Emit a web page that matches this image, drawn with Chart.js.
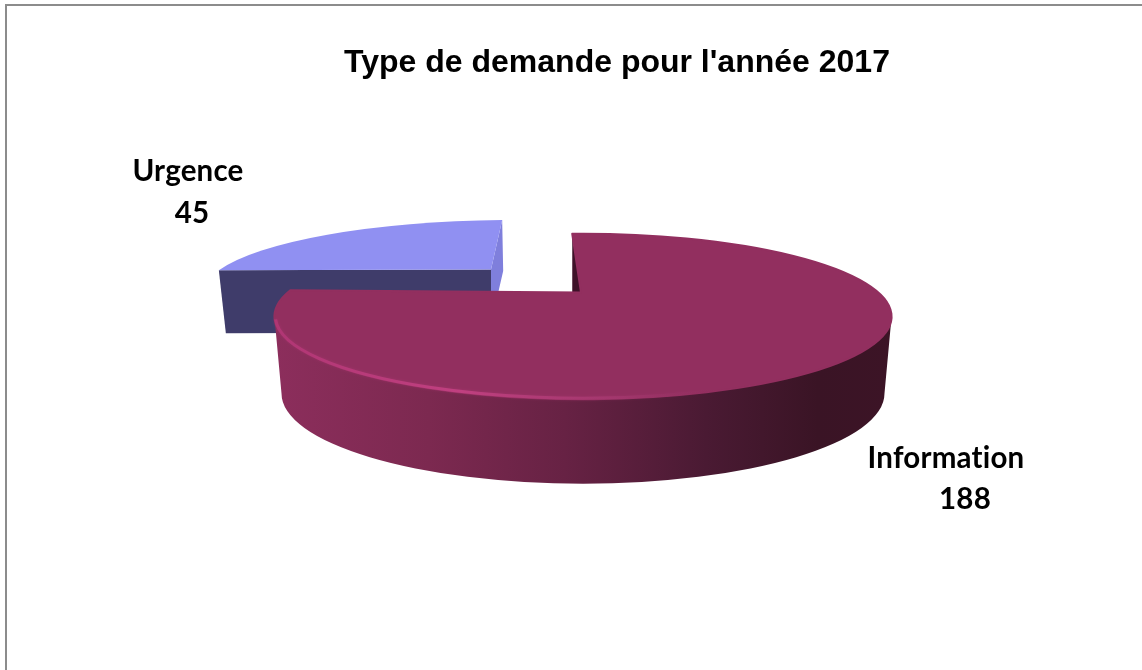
<!DOCTYPE html>
<html>
<head>
<meta charset="utf-8">
<title>Type de demande</title>
<script src="https://cdn.jsdelivr.net/npm/chart.js@4/dist/chart.umd.js"></script>
<style>
  html, body { margin: 0; padding: 0; background: #fff; }
  canvas { display: block; }
</style>
</head>
<body>
<canvas id="pie" width="1142" height="670"></canvas>
<script>
const chartTitle = "Type de demande pour l'année 2017";
const categories = ['Information', 'Urgence'];
const demandes = [188, 45];
const couleurs = ['#922f5f', '#9090f2'];

const labelFont = 'bold 29.5px Lato, Carlito, sans-serif';
const titleFont = 'bold 32px "Liberation Sans", Arial, sans-serif';

// the tilted view: squash of the disc, thickness, where the tip of a slice lands
const tilt = 0.268;
const wallDrop = 77;
const wallRx = 0.977;
const wallRy = 1.09;

const toRad = d => d * Math.PI / 180;

function sector(ctx, cx, cy, rx, ry, tipX, tipY, arc) {
  ctx.beginPath();
  ctx.ellipse(cx, cy, rx, ry, 0, arc.startAngle, arc.endAngle);
  ctx.lineTo(tipX, tipY);
  ctx.closePath();
}

function pointOn(cx, cy, rx, ry, a) {
  return [cx + rx * Math.cos(a), cy + ry * Math.sin(a)];
}

function drawUrgence(ctx, arc) {
  const rx = arc.outerRadius * 1.005;
  const ry = arc.outerRadius * tilt * 0.888;
  const cx = arc.x - 70;
  const cy = arc.y - 23;
  const tipX = cx - 22;
  const tipY = cy - 24;
  // this slice runs from its left end up to the top
  const left = pointOn(cx, cy, rx, ry, arc.startAngle);
  const top = pointOn(cx, cy, rx, ry, arc.endAngle);
  const depth = 63;

  // cut face on the right
  ctx.fillStyle = '#7f7fdc';
  ctx.beginPath();
  ctx.moveTo(tipX, tipY);
  ctx.lineTo(top[0], top[1]);
  ctx.lineTo(top[0] + 1, top[1] + 51);
  ctx.lineTo(tipX + 7, tipY + 24);
  ctx.lineTo(tipX, tipY + depth);
  ctx.closePath();
  ctx.fill();

  // cut face in front
  ctx.fillStyle = '#3f3c6a';
  ctx.beginPath();
  ctx.moveTo(left[0], left[1]);
  ctx.lineTo(tipX, tipY);
  ctx.lineTo(tipX, tipY + depth);
  ctx.lineTo(left[0] + 7, left[1] + depth);
  ctx.closePath();
  ctx.fill();

  sector(ctx, cx, cy, rx, ry, tipX, tipY, arc);
  ctx.fillStyle = arc.options.backgroundColor;
  ctx.fill();
}

function drawInformation(ctx, arc) {
  const rx = arc.outerRadius;
  const ry = arc.outerRadius * tilt;
  const cx = arc.x;
  const cy = arc.y;
  const tipX = cx - 2;
  const tipY = cy - 24;
  const s = pointOn(cx, cy, rx, ry, arc.startAngle);

  // dark sliver at the start of the slice
  ctx.fillStyle = '#3f1229';
  ctx.beginPath();
  ctx.moveTo(s[0], s[1]);
  ctx.lineTo(s[0], tipY);
  ctx.lineTo(tipX, tipY);
  ctx.closePath();
  ctx.fill();

  // round wall
  const wall = ctx.createLinearGradient(cx - rx, 0, cx + rx, 0);
  wall.addColorStop(0, '#8c2e5c');
  wall.addColorStop(0.25, '#7c2950');
  wall.addColorStop(0.47, '#672244');
  wall.addColorStop(0.7, '#4a1a33');
  wall.addColorStop(0.88, '#3a1425');
  wall.addColorStop(1, '#3c1426');
  ctx.fillStyle = wall;
  ctx.beginPath();
  ctx.ellipse(cx, cy, rx, ry, 0, 0, Math.PI);
  ctx.ellipse(cx, cy + wallDrop, rx * wallRx, ry * wallRy, 0, Math.PI, 0, true);
  ctx.closePath();
  ctx.fill();

  // top
  sector(ctx, cx, cy, rx, ry, tipX, tipY, arc);
  ctx.fillStyle = arc.options.backgroundColor;
  ctx.lineJoin = 'round';
  ctx.strokeStyle = arc.options.backgroundColor;
  ctx.lineWidth = 2;
  ctx.fill();
  ctx.stroke();

  // light line on the rim, gone by the right side
  const rim = ctx.createLinearGradient(cx - rx, 0, cx + rx, 0);
  rim.addColorStop(0, 'rgba(176,54,116,1)');
  rim.addColorStop(0.3, 'rgba(192,64,128,1)');
  rim.addColorStop(0.55, 'rgba(170,60,116,0.6)');
  rim.addColorStop(0.72, 'rgba(150,50,100,0)');
  ctx.strokeStyle = rim;
  ctx.lineWidth = 3;
  ctx.shadowColor = 'rgba(176,54,116,0.5)';
  ctx.shadowBlur = 3;
  ctx.beginPath();
  ctx.ellipse(cx, cy, rx - 1, ry - 1, 0, toRad(30), toRad(178));
  ctx.stroke();
  ctx.shadowBlur = 0;
}

const pie3d = {
  id: 'pie3d',
  beforeDatasetsDraw(chart) {
    const ctx = chart.ctx;
    const arcs = chart.getDatasetMeta(0).data;
    ctx.save();
    drawUrgence(ctx, arcs[1]);
    drawInformation(ctx, arcs[0]);
    ctx.restore();
    return false;
  },
  afterDraw(chart) {
    const ctx = chart.ctx;
    ctx.save();
    // frame only shows on the top and left
    ctx.strokeStyle = '#8c8c8c';
    ctx.lineWidth = 2;
    ctx.beginPath();
    ctx.moveTo(6, 670);
    ctx.lineTo(6, 5);
    ctx.lineTo(1142, 5);
    ctx.stroke();

    ctx.fillStyle = '#000';
    ctx.textAlign = 'center';
    ctx.textBaseline = 'middle';
    ctx.font = titleFont;
    ctx.fillText(chartTitle, 617, 63);
    ctx.font = labelFont;
    ctx.letterSpacing = '0.2px';
    ctx.fillText(categories[1], 188, 171);
    ctx.fillText(String(demandes[1]), 192, 213);
    ctx.fillText(categories[0], 946, 458);
    ctx.fillText(String(demandes[0]), 965, 499);
    ctx.restore();
  }
};

new Chart(document.getElementById('pie'), {
  type: 'pie',
  data: {
    labels: categories,
    datasets: [{ data: demandes, backgroundColor: couleurs, borderWidth: 0 }]
  },
  options: {
    responsive: false,
    animation: false,
    rotation: -2,
    radius: '97.5%',
    layout: { padding: { left: 24, bottom: 37 } },
    plugins: { legend: { display: false }, tooltip: { enabled: false } }
  },
  plugins: [pie3d]
});
</script>
</body>
</html>
